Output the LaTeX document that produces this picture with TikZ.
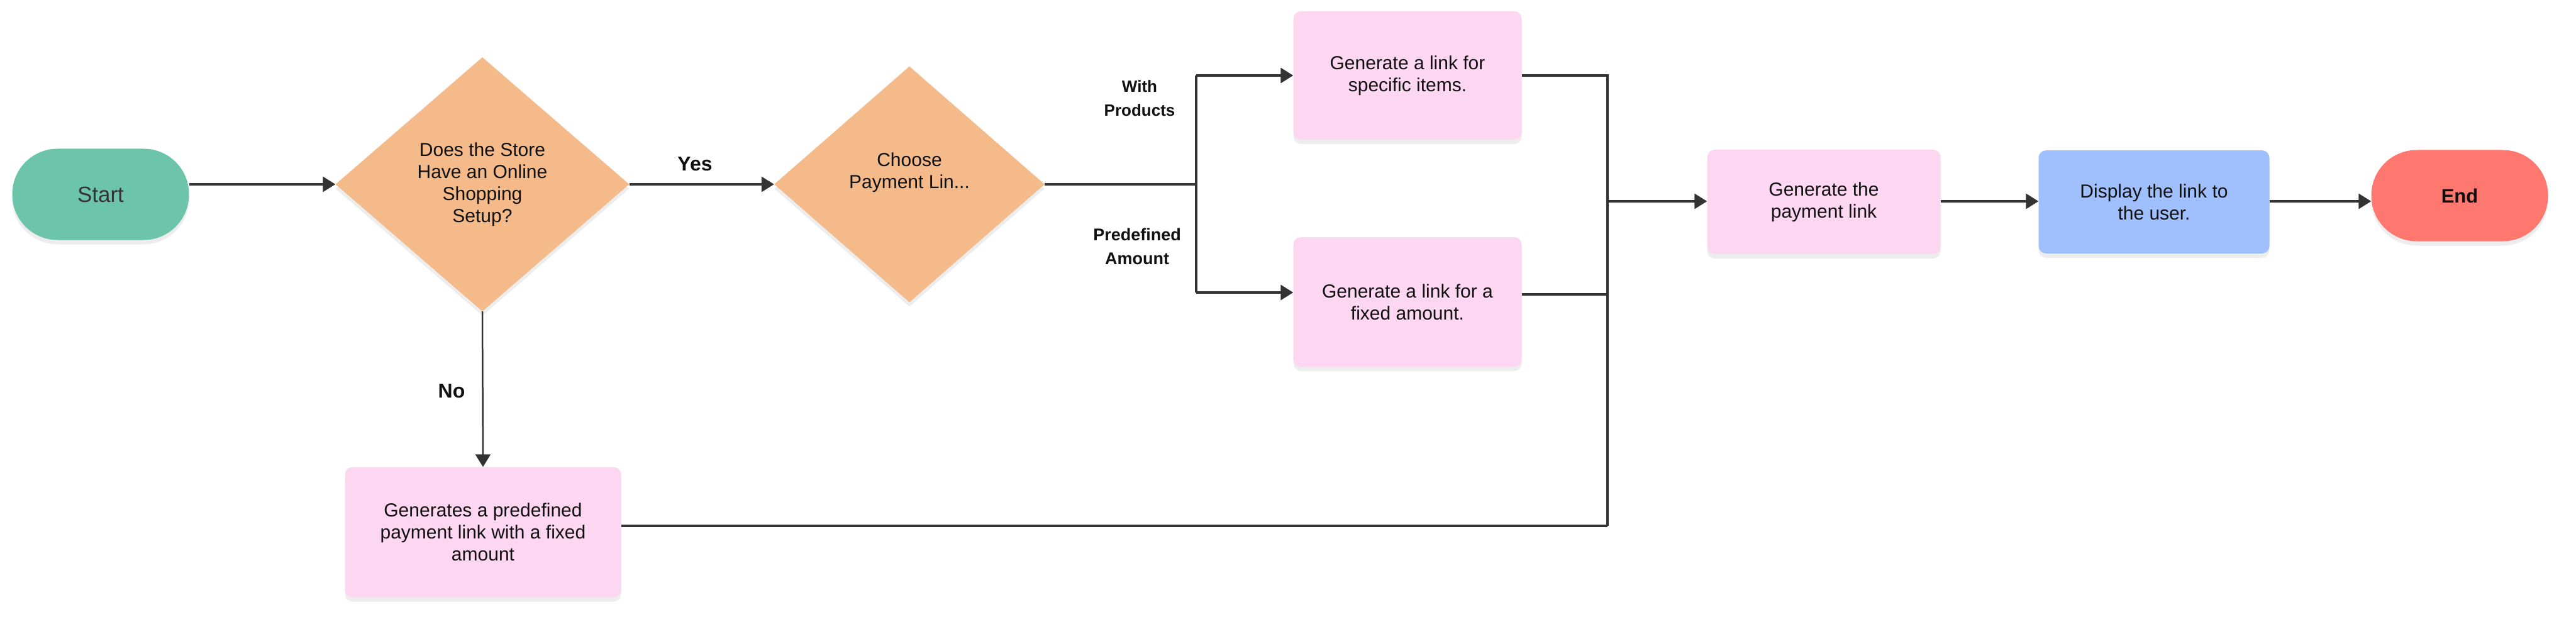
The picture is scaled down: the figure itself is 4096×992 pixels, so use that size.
\documentclass[tikz,border=0pt]{standalone}
\usepackage{fontspec}
\setmainfont{Liberation Sans}
\usetikzlibrary{shapes.geometric,arrows.meta,shadows}
\definecolor{cstart}{HTML}{6CC5A9}
\definecolor{cdia}{HTML}{F4BA8A}
\definecolor{cpink}{HTML}{FDD6F1}
\definecolor{cblue}{HTML}{A0C0FD}
\definecolor{cend}{HTML}{FF7870}
\definecolor{cline}{HTML}{333333}
\definecolor{ctxt}{HTML}{111111}
\tikzset{
  softshadow/.style={drop shadow={shadow xshift=0pt,shadow yshift=-7pt,opacity=0.07,fill=black}},
  txt/.style={font=\fontsize{30}{35}\selectfont, align=center, text=ctxt},
  term/.style={rectangle, rounded corners=72pt, minimum width=281pt, minimum height=145pt, inner sep=0pt, softshadow},
  dia/.style={diamond, fill=cdia, inner sep=0pt, softshadow},
  box/.style={rectangle, rounded corners=12pt, fill=cpink, inner sep=0pt, txt, softshadow},
  conn/.style={draw=cline, line width=3.5pt},
  arr/.style={conn, -{Triangle[length=20pt,width=24pt]}},
  lab/.style={font=\bfseries\fontsize{32}{36}\selectfont, text=ctxt, align=center},
  slab/.style={font=\bfseries\fontsize{26}{38}\selectfont, text=ctxt, align=center},
}
\begin{document}
\begin{tikzpicture}[x=1pt,y=-1pt]
\useasboundingbox (0,0) rectangle (4096,992);
\fill[white] (0,0) rectangle (4096,992);
% nodes
\node[term, fill=cstart, font=\fontsize{35}{40}\selectfont, text=cline] (Start) at (160,309) {Start};
\node[dia, minimum width=467pt, minimum height=404pt, txt] (D1) at (767,293) {Does the Store\\Have an Online\\Shopping\\Setup?};
\node[dia, minimum width=430pt, minimum height=375pt] (D2) at (1446,293) {};
\node[txt] (D2t) at (1446,274) {Choose\\Payment Lin...};
\node[box, minimum width=363pt, minimum height=204pt] (B1) at (2238,120) {Generate a link for\\specific items.};
\node[box, minimum width=363pt, minimum height=206pt] (B2) at (2238,480) {Generate a link for a\\fixed amount.};
\node[box, minimum width=439pt, minimum height=207pt] (B3) at (768,846) {Generates a predefined\\payment link with a fixed\\amount};
\node[box, minimum width=371pt, minimum height=166pt] (B4) at (2900,321) {Generate the\\payment link};
\node[box, fill=cblue, minimum width=367pt, minimum height=164pt] (B5) at (3425,321) {Display the link to\\the user.};
\node[term, fill=cend, font=\bfseries\fontsize{31}{36}\selectfont, text=ctxt] (End) at (3911,311) {End};
% junction coordinates
\coordinate (J0) at (1902,293);
\coordinate (J1) at (1902,120);
\coordinate (J2) at (1902,465);
\coordinate (K1) at (2556,120);
\coordinate (K2) at (2556,468);
\coordinate (K3) at (2556,836);
\coordinate (KM) at (2556,320);
% connectors
\draw[arr] (Start.east |- D1.west) -- (D1.west);
\draw[arr] (D1.east) -- (D2.west);
\draw[conn] (D2.east) -- (J0);
\draw[conn] (J1) -- (J2);
\draw[arr] (J1) -- (B1.west);
\draw[arr] (J2) -- (J2 -| B2.west);
\draw[conn] (B1.east) -- (K1) -- (K3);
\draw[conn] (K2 -| B2.east) -- (K2);
\draw[conn] (K3 -| B3.east) -- (K3);
\draw[arr] (KM) -- (KM -| B4.west);
\draw[arr] (KM -| B4.east) -- (KM -| B5.west);
\draw[arr] (KM -| B5.east) -- (KM -| End.west);
\draw[conn, line width=2.5pt, -{Triangle[length=20pt,width=24pt]}] (D1.south) -- (B3.north);
% labels
\node[lab] (Ly) at (1105,261) {Yes};
\node[lab] (Ln) at (718,622) {No};
\node[slab] (Lw) at (1812,156) {With\\Products};
\node[slab, font=\bfseries\fontsize{27}{38}\selectfont] (Lp) at (1808,392) {Predefined\\Amount};
\end{tikzpicture}
\end{document}
